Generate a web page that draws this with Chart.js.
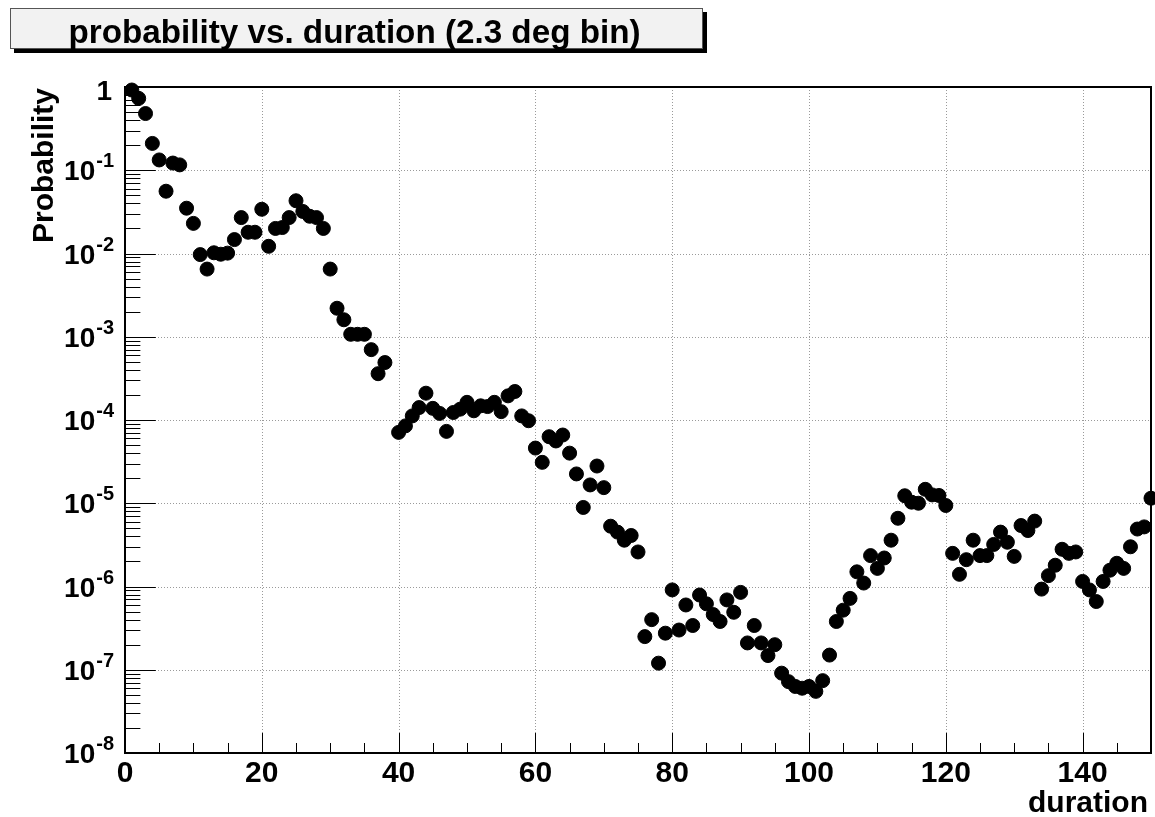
<!DOCTYPE html>
<html>
<head>
<meta charset="utf-8">
<script src="https://cdn.jsdelivr.net/npm/chart.js@4/dist/chart.umd.min.js"></script>
<style>
  html, body { margin: 0; padding: 0; background: #ffffff; }
  #wrap { width: 1155px; height: 817px; }
</style>
</head>
<body>
<div id="wrap"><canvas id="c" width="1155" height="817"></canvas></div>
<script>
// ---------- data ----------
const chartTitle = "probability vs. duration (2.3 deg bin)";
const xAxisTitle = "duration";
const yAxisTitle = "Probability";

const durations = [
  1,2,3,4,5,6,7,8,9,10,11,12,13,14,15,16,17,18,19,20,
  21,22,23,24,25,26,27,28,29,30,31,32,33,34,35,36,37,38,39,40,
  41,42,43,44,45,46,47,48,49,50,51,52,53,54,55,56,57,58,59,60,
  61,62,63,64,65,66,67,68,69,70,71,72,73,74,75,76,77,78,79,80,
  81,82,83,84,85,86,87,88,89,90,91,92,93,94,95,96,97,98,99,100,
  101,102,103,104,105,106,107,108,109,110,111,112,113,114,115,116,117,118,119,120,
  121,122,123,124,125,126,127,128,129,130,131,132,133,134,135,136,137,138,139,140,
  141,142,143,144,145,146,147,148,149,150
];

const probability = [
  0.92, 0.73, 0.48, 0.21, 0.133, 0.056, 0.122, 0.116, 0.035, 0.023,
  0.0097, 0.0065, 0.0102, 0.0098, 0.0101, 0.0147, 0.027, 0.018, 0.018, 0.034,
  0.0122, 0.020, 0.0205, 0.027, 0.043, 0.032, 0.028, 0.027, 0.020, 0.0065,
  0.0022, 0.0016, 0.00107, 0.00107, 0.00107, 0.0007, 0.00036, 0.00049, null, 7.1e-5,
  8.5e-5, 1.12e-4, 1.41e-4, 2.1e-4, 1.38e-4, 1.2e-4, 7.3e-5, 1.23e-4, 1.35e-4, 1.63e-4,
  1.29e-4, 1.48e-4, 1.45e-4, 1.63e-4, 1.26e-4, 1.95e-4, 2.2e-4, 1.12e-4, 9.8e-5, 4.6e-5,
  3.1e-5, 6.3e-5, 5.6e-5, 6.6e-5, 4.0e-5, 2.25e-5, 8.9e-6, 1.66e-5, 2.8e-5, 1.54e-5,
  5.3e-6, 4.5e-6, 3.6e-6, 4.1e-6, 2.6e-6, 2.5e-7, 4.0e-7, 1.2e-7, 2.75e-7, 9.1e-7,
  3.0e-7, 6.0e-7, 3.4e-7, 7.9e-7, 6.2e-7, 4.6e-7, 3.8e-7, 6.9e-7, 4.9e-7, 8.5e-7,
  2.1e-7, 3.4e-7, 2.1e-7, 1.48e-7, 2.0e-7, 9.1e-8, 7.2e-8, 6.3e-8, 6.0e-8, 6.3e-8,
  5.5e-8, 7.4e-8, 1.5e-7, 3.8e-7, 5.2e-7, 7.2e-7, 1.5e-6, 1.1e-6, 2.35e-6, 1.65e-6,
  2.2e-6, 3.6e-6, 6.6e-6, 1.23e-5, 1.03e-5, 1.0e-5, 1.47e-5, 1.26e-5, 1.24e-5, 9.4e-6,
  2.5e-6, 1.4e-6, 2.1e-6, 3.6e-6, 2.35e-6, 2.35e-6, 3.2e-6, 4.5e-6, 3.4e-6, 2.3e-6,
  5.4e-6, 4.7e-6, 6.1e-6, 9.3e-7, 1.35e-6, 1.8e-6, 2.8e-6, 2.5e-6, 2.6e-6, 1.15e-6,
  9.1e-7, 6.6e-7, 1.15e-6, 1.57e-6, 1.9e-6, 1.65e-6, 3.0e-6, 4.9e-6, 5.2e-6, 1.15e-5
];

const xMin = 0, xMax = 150;
const xMajorTicks = [0, 20, 40, 60, 80, 100, 120, 140];
const xTickLabels = ["0", "20", "40", "60", "80", "100", "120", "140"];
const xMinorStep = 5;

const yExponents = [0, -1, -2, -3, -4, -5, -6, -7, -8];
const yTickLabels = ["1", "10", "10", "10", "10", "10", "10", "10", "10"];
const yTickSuperscripts = ["", "-1", "-2", "-3", "-4", "-5", "-6", "-7", "-8"];
const yMinorMultipliers = [2, 3, 4, 5, 6, 7, 8, 9];

// ---------- styling ----------
const FONT = "'Liberation Sans', Arial, Helvetica, sans-serif";

const rootStylePlugin = {
  id: 'rootStyle',
  beforeDraw(chart) {
    const ctx = chart.ctx;
    ctx.save();
    ctx.fillStyle = '#ffffff';
    ctx.fillRect(0, 0, chart.width, chart.height);
    ctx.restore();
  },
  beforeDatasetsDraw(chart) {
    const ctx = chart.ctx;
    const a = chart.chartArea;
    const xs = chart.scales.x, ys = chart.scales.y;
    ctx.save();
    // dotted grid
    ctx.strokeStyle = '#9a9a9a';
    ctx.lineWidth = 1;
    ctx.setLineDash([1, 2]);
    xMajorTicks.forEach(v => {
      if (v <= xMin || v >= xMax) return;
      const px = Math.round(xs.getPixelForValue(v)) + 0.5;
      ctx.beginPath(); ctx.moveTo(px, a.top); ctx.lineTo(px, a.bottom); ctx.stroke();
    });
    yExponents.forEach(e => {
      if (e === 0 || e === -8) return;
      const py = Math.round(ys.getPixelForValue(Math.pow(10, e))) + 0.5;
      ctx.beginPath(); ctx.moveTo(a.left, py); ctx.lineTo(a.right, py); ctx.stroke();
    });
    ctx.setLineDash([]);

    // inward ticks
    ctx.strokeStyle = '#000000';
    ctx.lineWidth = 1;
    const plotW = a.right - a.left, plotH = a.bottom - a.top;
    const yMajLen = 0.03 * plotW, yMinLen = 0.015 * plotW;
    const xMajLen = 0.03 * plotH, xMinLen = 0.015 * plotH;
    for (let v = xMin; v <= xMax; v += xMinorStep) {
      const px = Math.round(xs.getPixelForValue(v)) + 0.5;
      const len = (xMajorTicks.indexOf(v) >= 0) ? xMajLen : xMinLen;
      ctx.beginPath(); ctx.moveTo(px, a.bottom); ctx.lineTo(px, a.bottom - len); ctx.stroke();
    }
    yExponents.forEach(e => {
      const base = Math.pow(10, e);
      const py = Math.round(ys.getPixelForValue(base)) + 0.5;
      ctx.beginPath(); ctx.moveTo(a.left, py); ctx.lineTo(a.left + yMajLen, py); ctx.stroke();
      if (e < 0) {
        yMinorMultipliers.forEach(m => {
          const pm = Math.round(ys.getPixelForValue(m * base)) + 0.5;
          ctx.beginPath(); ctx.moveTo(a.left, pm); ctx.lineTo(a.left + yMinLen, pm); ctx.stroke();
        });
      }
    });

    // frame
    ctx.lineWidth = 2;
    ctx.strokeStyle = '#000000';
    ctx.strokeRect(a.left, a.top, plotW, plotH);
    ctx.restore();
  },
  afterDraw(chart) {
    const ctx = chart.ctx;
    const a = chart.chartArea;
    const xs = chart.scales.x, ys = chart.scales.y;
    ctx.save();
    ctx.fillStyle = '#000000';

    // x tick labels
    ctx.font = 'bold 30px ' + FONT;
    ctx.textAlign = 'center';
    ctx.textBaseline = 'alphabetic';
    xMajorTicks.forEach((v, i) => {
      ctx.fillText(xTickLabels[i], xs.getPixelForValue(v), a.bottom + 29);
    });

    // y tick labels (base + superscript)
    const rightEdge = a.left - 11;
    yExponents.forEach((e, i) => {
      const py = ys.getPixelForValue(Math.pow(10, e));
      const sup = yTickSuperscripts[i];
      ctx.textAlign = 'left';
      if (!sup) {
        ctx.font = 'bold 28px ' + FONT;
        const w = ctx.measureText(yTickLabels[i]).width;
        ctx.fillText(yTickLabels[i], rightEdge - 2 - w, py + 13);
        return;
      }
      ctx.font = 'bold 20px ' + FONT;
      const sw = ctx.measureText(sup).width;
      ctx.font = 'bold 28px ' + FONT;
      const bw = ctx.measureText(yTickLabels[i]).width;
      const sx = rightEdge - sw;
      ctx.fillText(yTickLabels[i], sx - 1 - bw, py + 10);
      ctx.font = 'bold 20px ' + FONT;
      ctx.fillText(sup, sx, py - 3);
    });

    // x axis title
    ctx.font = 'bold 30px ' + FONT;
    ctx.textAlign = 'right';
    ctx.fillText(xAxisTitle, a.right - 3, a.bottom + 59);

    // y axis title (rotated)
    ctx.save();
    ctx.translate(53, a.top + 1);
    ctx.rotate(-Math.PI / 2);
    ctx.textAlign = 'right';
    ctx.font = 'bold 30px ' + FONT;
    ctx.fillText(yAxisTitle, 0, 0);
    ctx.restore();

    // title box with shadow
    const bx = 10, by = 8, bw = 693, bh = 41;
    ctx.fillStyle = '#000000';
    ctx.fillRect(bx + 4, by + 4, bw, bh);
    ctx.fillStyle = '#f2f2f2';
    ctx.fillRect(bx, by, bw, bh);
    ctx.strokeStyle = '#555555';
    ctx.lineWidth = 1;
    ctx.strokeRect(bx + 0.5, by + 0.5, bw - 1, bh - 1);
    ctx.fillStyle = '#000000';
    ctx.font = 'bold 33px ' + FONT;
    const targetW = 572;
    const natW = ctx.measureText(chartTitle).width;
    const sxScale = targetW / natW;
    const cx = bx + bw / 2 - 2;
    ctx.save();
    ctx.translate(cx, by + 35);
    ctx.scale(sxScale, 1);
    ctx.textAlign = 'center';
    ctx.fillText(chartTitle, 0, 0);
    ctx.restore();
    ctx.restore();
  }
};

const points = durations.map((d, i) => ({ x: d, y: probability[i] }));

new Chart(document.getElementById('c'), {
  type: 'scatter',
  data: {
    datasets: [{
      label: yAxisTitle,
      data: points,
      backgroundColor: '#000000',
      borderColor: '#000000',
      borderWidth: 1,
      pointRadius: 7,
      pointHoverRadius: 7,
      clip: false
    }]
  },
  options: {
    responsive: false,
    animation: false,
    devicePixelRatio: 1,
    layout: { autoPadding: false, padding: { left: 125, right: 4, top: 87, bottom: 64 } },
    plugins: { legend: { display: false }, tooltip: { enabled: false }, title: { display: false } },
    scales: {
      x: { type: 'linear', min: xMin, max: xMax, display: false },
      y: { type: 'logarithmic', min: 1e-8, max: 1, display: false }
    }
  },
  plugins: [rootStylePlugin]
});
</script>
</body>
</html>
